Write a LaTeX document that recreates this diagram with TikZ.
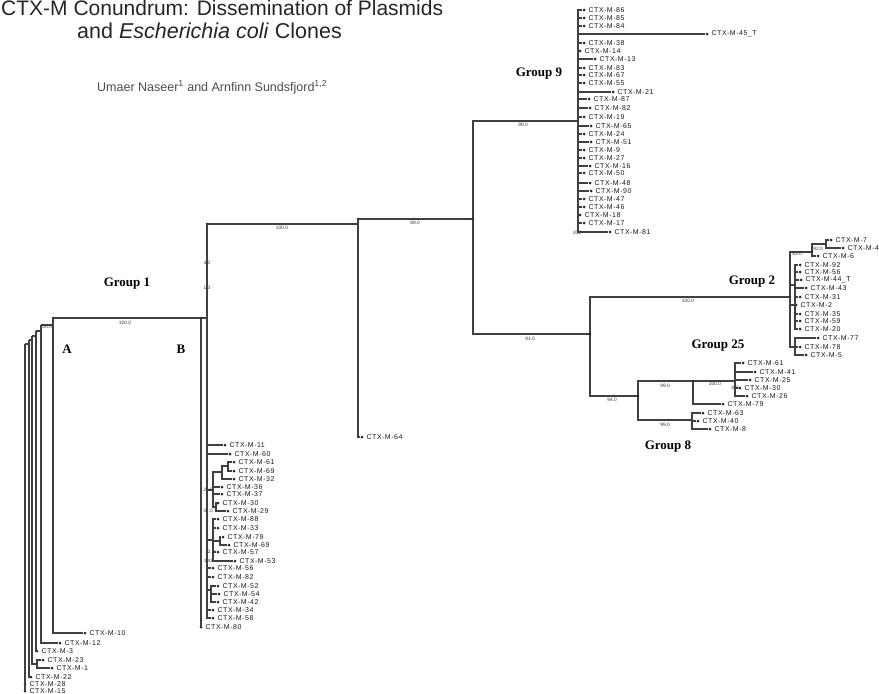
\documentclass[tikz,border=0pt]{standalone}
\usepackage{fontspec}
\setmainfont{Liberation Sans}
\newfontfamily\grpfont{Liberation Serif}
\newfontfamily\leaffont[LetterSpace=7]{Liberation Sans}
\usetikzlibrary{positioning}

\begin{document}
\begin{tikzpicture}[
  x=1pt, y=-1pt,
  br/.style={draw=black!75, line width=1.1pt},
  dot/.style={circle, fill=black!85, inner sep=0pt, minimum size=3pt},
  leaf/.style={font=\leaffont\fontsize{7}{8}\selectfont, inner sep=0.3pt, text=black!90},
  bs/.style={font=\fontsize{4.8}{5}\selectfont, inner sep=0pt, text=black!80},
  grp/.style={font=\grpfont\bfseries\fontsize{13}{14}\selectfont, inner sep=0pt}]
  \useasboundingbox (0,0) rectangle (879,694);
  % heading
  \node[anchor=base west, font=\fontsize{21}{24}\selectfont, text=black!85, inner sep=0pt] (title) at (1,15) {CTX-M Conundrum: Dissemination of Plasmids};
  \node[anchor=base west, font=\fontsize{21.5}{24}\selectfont, text=black!85, inner sep=0pt] (title2) at (77,38) {and \textit{Escherichia coli} Clones};
  \node[anchor=base west, font=\fontsize{12.5}{14}\selectfont, text=black!70, inner sep=0pt] (auth) at (97,91) {Umaer Naseer\textsuperscript{1} and Arnfinn Sundsfjord\textsuperscript{1,2}};
  % internal nodes
  \coordinate (nC) at (358,219);
  \coordinate (nD) at (473,219);
  \coordinate (nE) at (590,334);
  \coordinate (nF) at (638,396);
  \coordinate (g9) at (578,121);
  \coordinate (g2) at (790,297);
  \coordinate (g2a) at (812,252);
  \coordinate (g2aa) at (826,244);
  \coordinate (g2b) at (795,285);
  \coordinate (g2c) at (795,347);
  \coordinate (g25) at (693,381);
  \coordinate (g25a) at (735,381);
  \coordinate (g8) at (692,420);
  \coordinate (g1) at (207,224);
  \coordinate (nB) at (201,318);
  \coordinate (nA) at (53,318);
  \coordinate (b1) at (228,466);
  \coordinate (b2) at (222,472);
  \coordinate (b3) at (213,490);
  \coordinate (b4) at (216,507);
  \coordinate (b5) at (213,540);
  \coordinate (b6) at (220,541);
  \coordinate (b7) at (211,590);
  \coordinate (a1) at (41,325);
  \coordinate (a2) at (36,331);
  \coordinate (a3) at (32,336);
  \coordinate (a4) at (29,340);
  \coordinate (a5) at (37,664);
  \coordinate (a6) at (25,344);
  % backbone
  \draw[br] (nC) |- (g1);
  \draw[br] (nC) -- (nD);
  \draw[br] (nD) |- (g9); \draw[br] (nD) |- (nE);
  \draw[br] (nE) |- (g2); \draw[br] (nE) |- (nF);
  \draw[br] (nF) |- (g25); \draw[br] (nF) |- (g8);
  \draw[br] (g25) -- (g25a);
  \draw[br] (g2) |- (g2a); \draw[br] (g2) |- (g2b); \draw[br] (g2) |- (g2c);
  \draw[br] (g2a) |- (g2aa);
  \draw[br] (g1) |- (nB);
  \draw[br] (nB) -- (nA);
  \draw[br] (g1) |- (b3); \draw[br] (b3) |- (b2); \draw[br] (b2) |- (b1);
  \draw[br] (b3) |- (b4);
  \draw[br] (g1) |- (b5); \draw[br] (b5) |- (b6);
  \draw[br] (g1) |- (b7);
  \draw[br] (nA) |- (a1); \draw[br] (a1) |- (a2); \draw[br] (a2) |- (a3);
  \draw[br] (a3) |- (a4); \draw[br] (a3) |- (a5); \draw[br] (a4) |- (a6);
  \foreach \c in {nC,nD,nE,nF,g1,nA,nB,g2,g2a,g25,g25a,g8}
    \fill[black!85] (\c) circle (1.4pt);
  \fill[black!85] (207,259) circle (1.2pt) (207,284) circle (1.2pt);
  % leaves: parent / tip x / y / number
  \foreach \p/\xd/\y/\t [count=\i] in {
    g9/584/10/86, g9/584/18/85, g9/584/26/84, g9/707/34/45\_T, g9/584/43/38,
    g9/580/51/14, g9/595/59/13, g9/584/68/83, g9/584/75/67, g9/584/83/55,
    g9/613/92/21, g9/589/99/87, g9/590/108/82, g9/584/117/19, g9/591/126/65,
    g9/584/134/24, g9/591/142/51, g9/584/150/9, g9/584/158/27, g9/590/166/16,
    g9/584/173/50, g9/590/183/48, g9/591/191/90, g9/584/199/47, g9/584/207/46,
    g9/580/215/18, g9/584/223/17, g9/610/232/81,
    g2aa/831/240/7, g2aa/843/248/4, g2a/818/256/6, g2b/800/265/92, g2b/800/272/56,
    g2b/801/280/44\_T, g2b/806/288/43, g2b/800/297/31, g2/796/305/2, g2b/800/314/35,
    g2b/800/321/59, g2b/800/329/20, g2c/818/338/77, g2c/800/347/78, g2c/806/355/5,
    g25a/743/363/61, g25a/755/372/41, g25a/750/380/25, g25a/740/388/30, g25a/747/396/26,
    g25/723/404/79, g8/703/413/63, g8/698/421/40, g8/710/429/8,
    nC/362/437/64,
    g1/225/445/11, g1/230/454/60, b1/234/462/61, b1/234/471/69, b2/234/479/32,
    b3/222/487/36, b3/222/494/37, b4/218/503/30, b4/228/511/29, b5/218/519/88,
    b5/218/528/33, b6/223/537/79, b6/229/545/69, b5/218/552/57, b5/235/561/53,
    g1/213/568/56, g1/213/577/82, b7/218/586/52, b7/219/594/54, b7/218/602/42,
    g1/213/610/34, g1/213/618/58, nB/201/627/80,
    nA/85/633/10, a1/60/643/12, a2/37/651/3, a5/43/660/23, a5/52/668/1,
    a4/31/677/22, a6/25/684/28, a6/25/691/15} {
    \node[dot] (l\i) at (\xd,\y) {};
    \node[leaf, right=2.5pt of l\i] (t\i) {CTX-M-\t};
    \draw[br] (\p) |- (l\i);
  }
  % support values
  \foreach \x/\y/\v [count=\i] in {
    125/323/100.0, 282/228/100.0, 415/223/89.0, 523/125/99.0, 530/339/91.0,
    688/301/100.0, 612/400/94.0, 665/386/99.0, 715/384/100.0, 735/388/300,
    665/425/99.0, 797/254/83.0, 818/249/92.0, 577/233/200, 207/263/4.0,
    207/288/1.0, 46/327/100.0, 208/490/20.0, 208/511/36.0, 210/552/12.0, 208/561/100}
    \node[bs] (v\i) at (\x,\y) {\v};
  % group names
  \node[grp] (grp1) at (127,284) {Group 1};
  \node[grp] (grpA) at (67,349) {A};
  \node[grp] (grpB) at (181,349) {B};
  \node[grp] (grp9) at (539,74) {Group 9};
  \node[grp] (grp2) at (752,282) {Group 2};
  \node[grp] (grp25) at (718,346) {Group 25};
  \node[grp] (grp8) at (668,447) {Group 8};
\end{tikzpicture}
\end{document}
